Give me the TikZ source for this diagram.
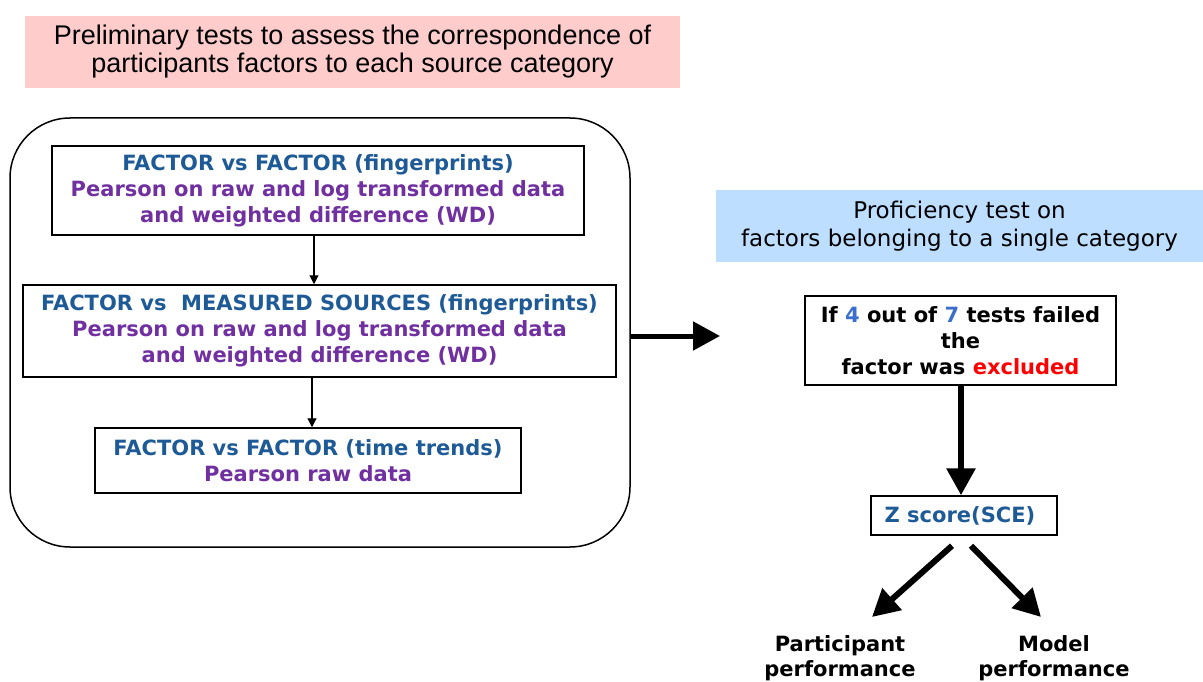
\documentclass[tikz,border=0pt]{standalone}
\usepackage{fontspec}
\setmainfont{DejaVu Sans}
\newfontfamily\headfont{Liberation Sans}
\usetikzlibrary{arrows.meta}

\definecolor{pinkfill}{RGB}{255,204,204}
\definecolor{bluefill}{RGB}{189,222,255}
\definecolor{factorblue}{RGB}{30,90,150}
\definecolor{testpurple}{RGB}{112,48,160}
\definecolor{countblue}{RGB}{60,110,205}

\begin{document}
\begin{tikzpicture}[x=1pt,y=-1pt,
    testbox/.style={draw,line width=1.5pt,align=center,inner sep=0pt,
      font=\bfseries\fontsize{21}{26}\selectfont},
    headbox/.style={inner sep=0pt,align=center},
    thin arrow/.style={line width=1.2pt,-{Triangle[length=9pt,width=9pt]}},
    thick arrow/.style={line width=6pt,-{Triangle[length=27pt,width=28pt]}}]
  \useasboundingbox (0,0) rectangle (1203,682);
  \node[headbox,fill=pinkfill,minimum width=655,minimum height=72,
    font=\headfont\fontsize{27}{28}\selectfont] (prelim) at (352.5,52)
    {Preliminary tests to assess the correspondence of\\
     participants factors to each source category};
  \node[draw,line width=1.5pt,rounded corners=60pt,minimum width=620,
    minimum height=429] (frame) at (320,332.5) {};
  \node[testbox,minimum width=532,minimum height=89] (fvf) at (318,190.5)
    {\color{factorblue}FACTOR vs FACTOR (fingerprints)\\
     \color{testpurple}Pearson on raw and log transformed data\\
     \color{testpurple}and weighted difference (WD)};
  \node[testbox,minimum width=593,minimum height=92] (fvm) at (319.5,331)
    {\color{factorblue}FACTOR vs\ \ MEASURED SOURCES (fingerprints)\\
     \color{testpurple}Pearson on raw and log transformed data\\
     \color{testpurple}and weighted difference (WD)};
  \node[testbox,minimum width=426,minimum height=65] (fvt) at (308,460.5)
    {\color{factorblue}FACTOR vs FACTOR (time trends)\\
     \color{testpurple}Pearson raw data};
  \draw[thin arrow] (fvf.south -| 314,0) -- (fvm.north -| 314,0);
  \draw[thin arrow] (fvm.south -| 312,0) -- (fvt.north -| 312,0);
  \coordinate (gap) at (720,336);
  \draw[line width=5pt,-{Triangle[length=27pt,width=28pt]}]
    (frame.east |- gap) -- (gap);
  \node[headbox,fill=bluefill,minimum width=487,minimum height=72,
    font=\fontsize{23}{28}\selectfont] (prof) at (959.5,226)
    {Proficiency test on\\factors belonging to a single category};
  \node[testbox,minimum width=311,minimum height=89] (rule) at (960.5,340.5)
    {If {\color{countblue}4} out of {\color{countblue}7} tests failed\\
     the\\factor was {\color{red}excluded}};
  \node[testbox,minimum width=186,minimum height=39] (zscore) at (964,515.5)
    {\color{factorblue}Z score(SCE)\hspace{8pt}};
  \draw[thick arrow] (rule.south -| 961,0) -- (zscore.north -| 961,0);
  \node[headbox,font=\bfseries\fontsize{21}{25}\selectfont] (part) at (840,658)
    {Participant\\performance};
  \node[headbox,font=\bfseries\fontsize{21}{25}\selectfont] (model) at (1054,658)
    {Model\\performance};
  \coordinate (partend) at (872,617);
  \coordinate (modelend) at (1041,617);
  \draw[thick arrow] ([xshift=-12pt,yshift=-10pt]zscore.south) -- (partend);
  \draw[thick arrow] ([xshift=7pt,yshift=-10pt]zscore.south) -- (modelend);
\end{tikzpicture}
\end{document}
